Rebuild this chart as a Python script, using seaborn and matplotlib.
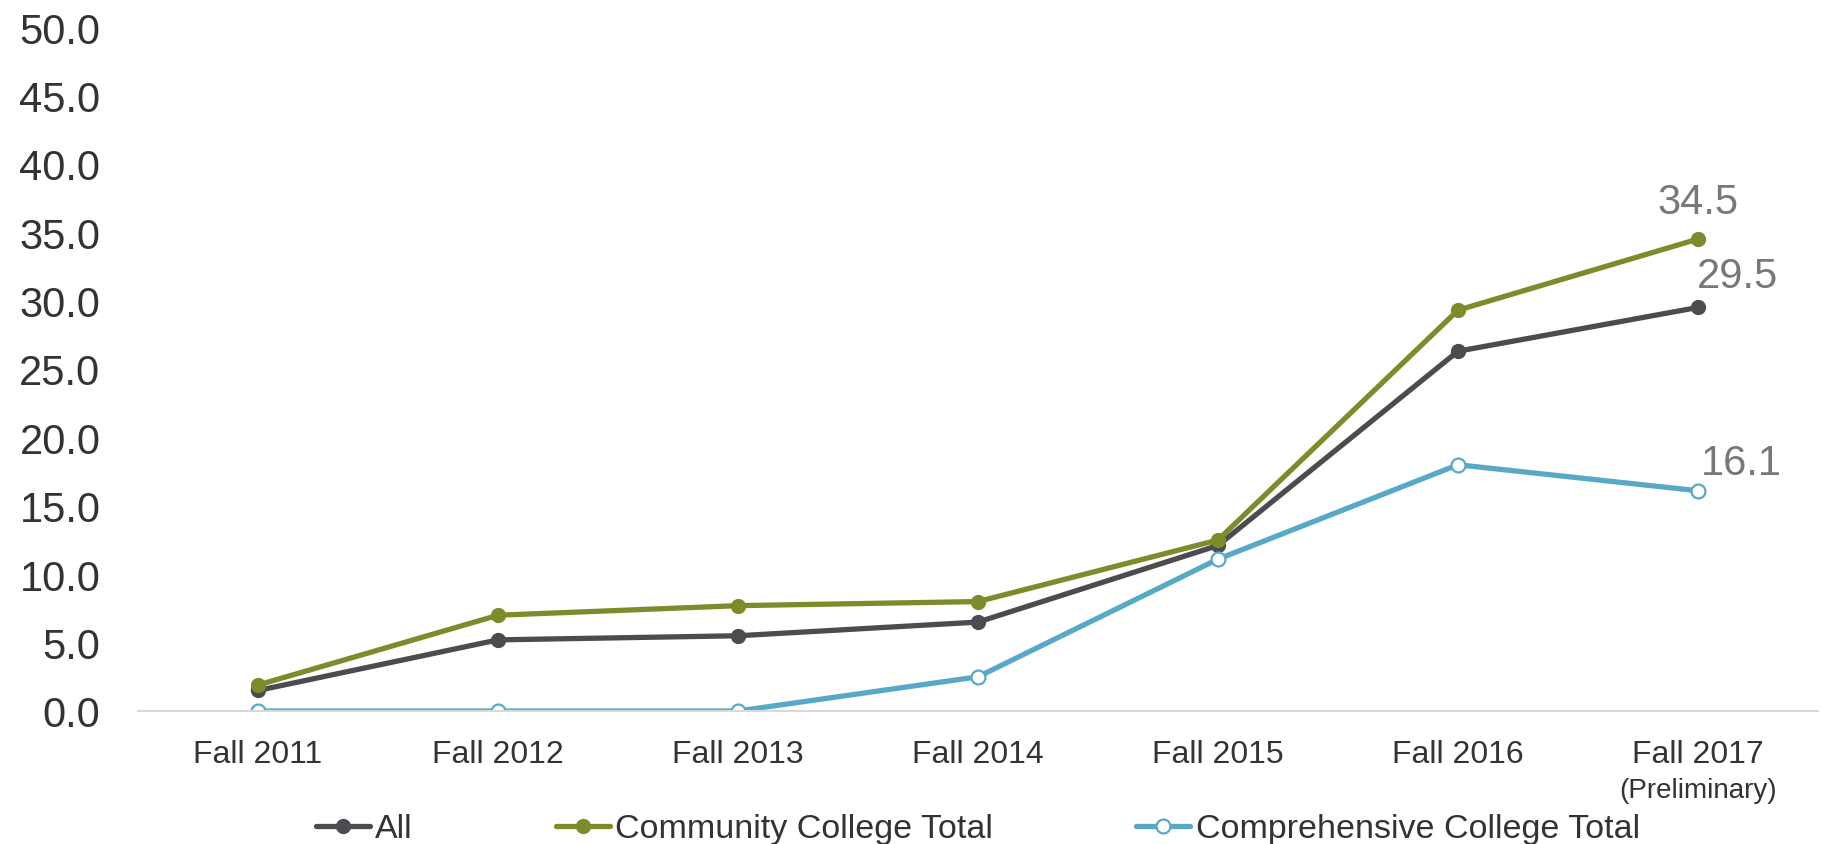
import matplotlib
matplotlib.use("Agg")
import matplotlib.pyplot as plt
import seaborn as sns

# data
terms = ["Fall 2011", "Fall 2012", "Fall 2013", "Fall 2014", "Fall 2015", "Fall 2016", "Fall 2017"]
all_vals = [1.5, 5.2, 5.5, 6.5, 12.1, 26.3, 29.5]
community_vals = [1.9, 7.0, 7.7, 8.0, 12.5, 29.3, 34.5]
comprehensive_vals = [0.0, 0.0, 0.0, 2.5, 11.1, 18.0, 16.1]
y_ticks = [0, 5, 10, 15, 20, 25, 30, 35, 40, 45, 50]

sns.set_style("white")
plt.rcParams['font.family'] = ['Liberation Sans', 'DejaVu Sans']

c_all = "#4b4b50"
c_comm = "#7d8c2a"
c_comp = "#58a8c8"
c_lab = "#77787c"
c_txt = "#333333"

fig = plt.figure(figsize=(18.24, 8.45), dpi=100)
ax = fig.add_axes([138 / 1824, 133 / 845, 1680 / 1824, 684 / 845])

sns.lineplot(x=terms, y=all_vals, ax=ax, color=c_all, linewidth=3.8, marker="o",
             markersize=11, markeredgewidth=0, label="All")
sns.lineplot(x=terms, y=community_vals, ax=ax, color=c_comm, linewidth=3.8, marker="o",
             markersize=11, markeredgewidth=0, label="Community College Total")
sns.lineplot(x=terms, y=comprehensive_vals, ax=ax, color=c_comp, linewidth=3.8, marker="o",
             markersize=10, markerfacecolor="white", markeredgecolor=c_comp,
             markeredgewidth=1.6, label="Comprehensive College Total")

ax.set_xlim(-0.5, 6.5)
ax.set_ylim(0, 50)
ax.set_yticks(y_ticks)
ax.set_yticklabels(["%.1f" % v for v in y_ticks], fontsize=30, color=c_txt)
ax.tick_params(axis="y", length=0, pad=27)
ax.tick_params(axis="x", length=0, pad=20, labelsize=23, labelcolor=c_txt)
ax.set_xlabel("")
ax.set_ylabel("")

for s in ["top", "right", "left"]:
    ax.spines[s].set_visible(False)
ax.spines["bottom"].set_color("#d9d9d9")
ax.spines["bottom"].set_linewidth(1.5)

# sub label under last tick
ax.annotate("(Preliminary)", xy=(6, 0), xycoords="data", xytext=(0, -57),
            textcoords="offset points", ha="center", va="center",
            fontsize=20, color=c_txt)

# end labels
last = len(terms) - 1
ax.annotate("%.1f" % community_vals[last], xy=(last, community_vals[last]),
            xytext=(0, 19), textcoords="offset points", ha="center", va="baseline",
            fontsize=30, color=c_lab)
ax.annotate("%.1f" % all_vals[last], xy=(last, all_vals[last]),
            xytext=(-1, 15), textcoords="offset points", ha="left", va="baseline",
            fontsize=30, color=c_lab)
ax.annotate("%.1f" % comprehensive_vals[last], xy=(last, comprehensive_vals[last]),
            xytext=(2, 12), textcoords="offset points", ha="left", va="baseline",
            fontsize=30, color=c_lab)

handles, labels = ax.get_legend_handles_labels()
ax.get_legend().remove()
fig.legend(handles, labels, loc="center", bbox_to_anchor=(0.536, 15 / 845),
           ncol=3, frameon=False, prop={"size": 24.5},
           handlelength=1.6, handletextpad=0.15, columnspacing=4.2,
           borderpad=0, labelcolor=c_txt)

fig.savefig("out.png", dpi=100)
